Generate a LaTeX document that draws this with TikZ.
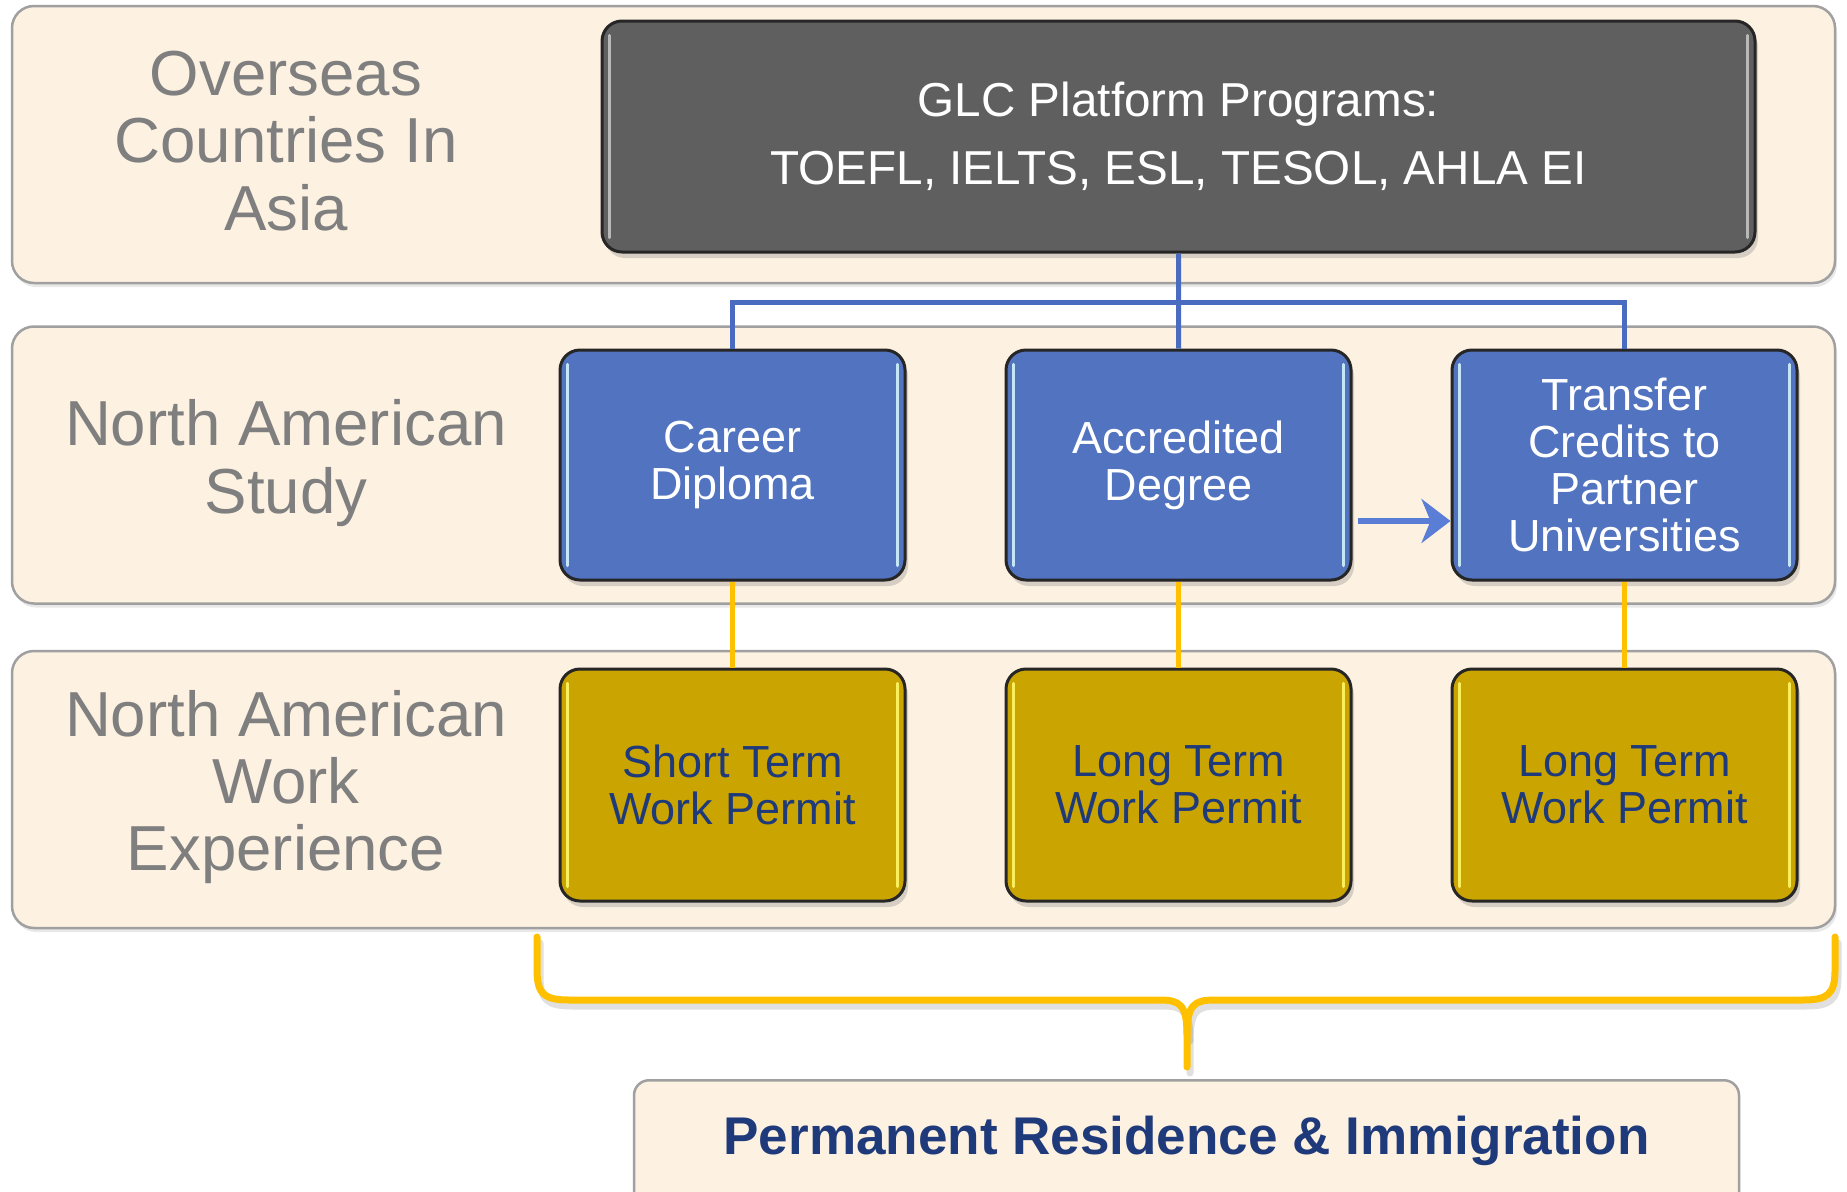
\documentclass[tikz,border=0pt]{standalone}
\usepackage{fontspec}
\setmainfont{Liberation Sans}
\usetikzlibrary{positioning,calc,shadows,arrows.meta}

\definecolor{bandfill}{HTML}{FDF1E1}
\definecolor{bandline}{HTML}{A0A0A0}
\definecolor{lblgrey}{HTML}{7F7F7F}
\definecolor{glcgrey}{HTML}{5F5F5F}
\definecolor{studyblue}{HTML}{5273BF}
\definecolor{workgold}{HTML}{CAA400}
\definecolor{navy}{HTML}{1F3A7A}
\definecolor{linkblue}{HTML}{4A6CC0}
\definecolor{arrowblue}{HTML}{5A7ED6}
\definecolor{linkgold}{HTML}{FFC000}

\begin{document}
\begin{tikzpicture}[
    x=0.1mm, y=-0.1mm,
    node distance=9.8mm,
    band/.style={rectangle, draw=bandline, line width=0.25mm, fill=bandfill, rounded corners=2.2mm, minimum width=182.3mm, minimum height=27.7mm, drop shadow={opacity=0.18, shadow xshift=0.2mm, shadow yshift=-0.4mm}},
    lbl/.style={align=center, text=lblgrey, font=\fontsize{18.1}{19.1}\selectfont},
    box/.style={rectangle, draw=black!85, line width=0.3mm, rounded corners=2mm, align=center, drop shadow={opacity=0.3, shadow xshift=0.3mm, shadow yshift=-0.6mm}},
    glcbox/.style={box, fill=glcgrey, text=white, minimum width=115.3mm, minimum height=23.1mm, font=\fontsize{13.55}{19.4}\selectfont},
    studybox/.style={box, fill=studyblue, text=white, minimum width=34.5mm, minimum height=23mm, font=\fontsize{12.8}{13.3}\selectfont},
    workbox/.style={box, fill=workgold, text=navy, minimum width=34.5mm, minimum height=23.2mm, font=\fontsize{12.8}{13.3}\selectfont},
    goal/.style={rectangle, draw=bandline, line width=0.25mm, fill=bandfill, rounded corners=1.5mm, minimum width=110.5mm, inner sep=0pt, text height=7.4mm, text depth=8mm, text=navy, font=\fontsize{15.1}{18}\selectfont\bfseries},
    blueline/.style={draw=linkblue, line width=0.5mm},
    goldline/.style={draw=linkgold, line width=0.5mm},
    arrow/.style={draw=arrowblue, line width=0.55mm, -{Stealth[length=2.9mm, width=4.4mm, inset=0.9mm]}},
    brace/.style={draw=linkgold, line width=0.7mm, line cap=round, line join=round},
    bluehi/.style={draw=blue!10!cyan!15!white, opacity=0.85, line width=0.35mm, line cap=round},
    goldhi/.style={draw=yellow!60!white, opacity=0.9, line width=0.35mm, line cap=round},
    glchi/.style={draw=white!70!glcgrey, opacity=0.8, line width=0.35mm, line cap=round}
]
    \useasboundingbox (0,0) rectangle (1847,1191);

    % rows
    \node [band] (overseas) at (923.5,144.5) {};
    \node [band] (study) at (923.5,465) {};
    \node [band] (work) at (923.5,789.5) {};

    \node [lbl] (overseaslbl) at (286,141) {Overseas\\Countries In\\Asia};
    \node [lbl] (studylbl) at (286,463) {North American\\Study};
    \node [lbl] (worklbl) at (286,787) {North American\\Work\\Experience};

    % boxes
    \node [glcbox] (glc) at (1178.5,136.5) {GLC Platform Programs:\\TOEFL, IELTS, ESL, TESOL, AHLA EI};
    \node [studybox] (cd) at (732.5,465) {Career\\Diploma};
    \node [studybox, right=of cd] (ad) {Accredited\\Degree};
    \node [studybox, right=of ad] (tc) {Transfer\\Credits to\\Partner\\Universities};
    \node [workbox, below=8.6mm of cd] (sw) {Short Term\\Work Permit};
    \node [workbox, below=8.6mm of ad] (lw) {Long Term\\Work Permit};
    \node [workbox, below=8.6mm of tc] (lt) {Long Term\\Work Permit};

    \foreach \b/\hi in {glc/glchi, cd/bluehi, ad/bluehi, tc/bluehi, sw/goldhi, lw/goldhi, lt/goldhi} {
        \draw [\hi] ($(\b.north west)+(9,16)$) -- ($(\b.south west)+(9,-16)$);
        \draw [\hi] ($(\b.north east)+(-9,16)$) -- ($(\b.south east)+(-9,-16)$);
    }

    \node [goal, anchor=north] (pr) at (1186.5,1079) {Permanent Residence \& Immigration};

    % links
    \coordinate (bus) at ($(glc.south)+(0,49)$);
    \draw [blueline] (glc.south) -- (ad.north);
    \draw [blueline] (bus) -| (cd.north);
    \draw [blueline] (bus) -| (tc.north);

    \draw [goldline] (cd.south) -- (sw.north);
    \draw [goldline] (ad.south) -- (lw.north);
    \draw [goldline] (tc.south) -- (lt.north);

    \draw [arrow, shorten <=0.5mm] ($(ad.east)+(0,56)$) -- ($(tc.west)+(0,56)$);

    % brace
    \coordinate (bl) at (537,937);
    \coordinate (br) at (1835,937);
    \coordinate (tip) at (1187,1067);
    \begin{scope}[transform canvas={shift={(0.3mm,-0.6mm)}}]
        \draw [brace, draw=black, opacity=0.12] (bl) -- (537,970) .. controls (537,995) and (545,1000) .. (570,1000) -- (1160,1000) .. controls (1180,1000) and (1187,1005) .. (1187,1035) -- (tip);
        \draw [brace, draw=black, opacity=0.12] (br) -- (1835,970) .. controls (1835,995) and (1827,1000) .. (1802,1000) -- (1214,1000) .. controls (1194,1000) and (1187,1005) .. (1187,1035);
    \end{scope}
    \draw [brace] (bl) -- (537,970) .. controls (537,995) and (545,1000) .. (570,1000) -- (1160,1000) .. controls (1180,1000) and (1187,1005) .. (1187,1035) -- (tip);
    \draw [brace] (br) -- (1835,970) .. controls (1835,995) and (1827,1000) .. (1802,1000) -- (1214,1000) .. controls (1194,1000) and (1187,1005) .. (1187,1035);
\end{tikzpicture}
\end{document}
